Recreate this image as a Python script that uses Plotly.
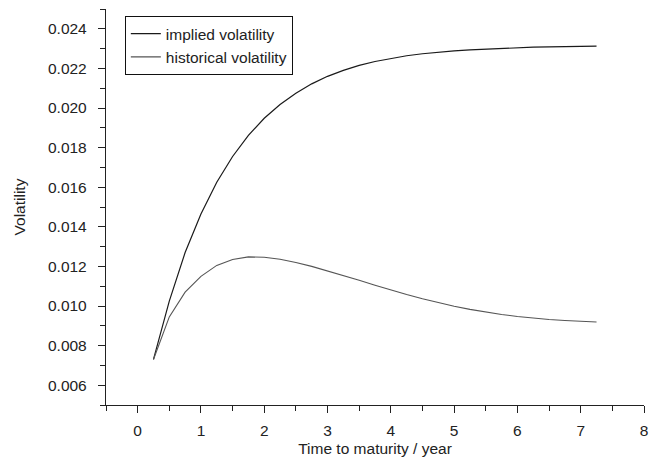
import plotly.graph_objects as go

# Time to maturity (years), quarterly grid
maturity = [0.25, 0.50, 0.75, 1.00, 1.25, 1.50, 1.75, 2.00, 2.25, 2.50,
            2.75, 3.00, 3.25, 3.50, 3.75, 4.00, 4.25, 4.50, 4.75, 5.00,
            5.25, 5.50, 5.75, 6.00, 6.25, 6.50, 6.75, 7.00, 7.25]

implied_vol = [0.00730, 0.01025, 0.01270, 0.01465, 0.01625, 0.01755, 0.01862,
               0.01948, 0.02018, 0.02075, 0.02122, 0.02160, 0.02190, 0.02215,
               0.02235, 0.02251, 0.02264, 0.02274, 0.02282, 0.02289, 0.02294,
               0.02298, 0.02302, 0.02305, 0.02307, 0.02309, 0.02310, 0.02311,
               0.02312]

historical_vol = [0.00730, 0.00945, 0.01070, 0.01150, 0.01205, 0.01235, 0.01248,
                  0.01246, 0.01236, 0.01220, 0.01200, 0.01178, 0.01155, 0.01130,
                  0.01105, 0.01080, 0.01058, 0.01037, 0.01017, 0.00999, 0.00983,
                  0.00969, 0.00957, 0.00947, 0.00939, 0.00932, 0.00927, 0.00923,
                  0.00919]

FONT = "Liberation Sans, Arial, Helvetica, sans-serif"
INK = "#222222"
FS = 15.5

fig = go.Figure()
fig.add_trace(go.Scatter(x=maturity, y=implied_vol, mode="lines",
                         name="implied volatility",
                         line=dict(color="#1a1a1a", width=1.2)))
fig.add_trace(go.Scatter(x=maturity, y=historical_vol, mode="lines",
                         name="historical volatility",
                         line=dict(color="#555555", width=1.1)))

axis_common = dict(
    showline=True, linecolor=INK, linewidth=1.3, mirror=False,
    showgrid=False, zeroline=False,
    ticks="outside", ticklen=7, tickwidth=1.1, tickcolor=INK,
    tickfont=dict(family=FONT, size=FS, color=INK),
    ticklabeloverflow="allow",
)

fig.update_layout(
    width=652, height=467,
    margin=dict(l=106, r=4, t=9, b=62),
    paper_bgcolor="white", plot_bgcolor="white",
    font=dict(family=FONT, size=FS, color=INK),
    showlegend=True,
    legend=dict(x=0.035, y=0.982, xanchor="left", yanchor="top",
                bordercolor="#111111", borderwidth=1, bgcolor="white",
                font=dict(family=FONT, size=FS, color=INK),
                tracegroupgap=0, itemwidth=30),
    xaxis=dict(range=[-0.5, 8], tick0=0, dtick=1,
               minor=dict(dtick=0.5, tick0=0, ticks="outside", ticklen=5,
                          tickcolor=INK),
               ticklabelstandoff=4,
               title=dict(text="Time to maturity / year", standoff=5,
                          font=dict(family=FONT, size=FS, color=INK)),
               **axis_common),
    yaxis=dict(range=[0.005, 0.025], tick0=0.006, dtick=0.002,
               tickformat=".3f",
               minor=dict(dtick=0.001, tick0=0.005, ticks="outside", ticklen=5,
                          tickcolor=INK),
               ticklabelstandoff=8,
               title=dict(text="Volatility", standoff=18,
                          font=dict(family=FONT, size=FS, color=INK)),
               **axis_common),
)

fig.write_html("out.html")
